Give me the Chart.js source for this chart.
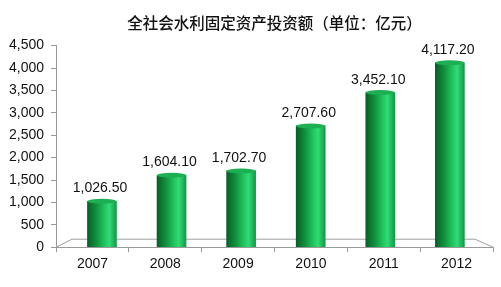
<!DOCTYPE html>
<html>
<head>
<meta charset="utf-8">
<script src="https://cdn.jsdelivr.net/npm/chart.js@4/dist/chart.umd.min.js"></script>
<style>
	html, body { margin: 0; padding: 0; background: #fff; }
	#wrap { width: 501px; height: 287px; }
</style>
</head>
<body>
<div id="wrap"><canvas id="waterChart"></canvas></div>
<script>
// 全社会水利固定资产投资额 (亿元)
const years = ["2007", "2008", "2009", "2010", "2011", "2012"];
const investment = [1026.5, 1604.1, 1702.7, 2707.6, 3452.1, 4117.2];
const yTicks = [0, 500, 1000, 1500, 2000, 2500, 3000, 3500, 4000, 4500];
const titleText = "全社会水利固定资产投资额（单位：亿元）";

const BAR_W = 29;

function fmt(v) {
	return v.toLocaleString("en-US", { minimumFractionDigits: 2, maximumFractionDigits: 2 });
}

function barGradient(ctx) {
	const chart = ctx.chart;
	if (!chart.chartArea || !chart.scales.xb) return "#1aa84a";
	const cx = chart.scales.xb.getPixelForValue(ctx.dataIndex);
	const g = chart.ctx.createLinearGradient(cx - BAR_W / 2, 0, cx + BAR_W / 2, 0);
	g.addColorStop(0, "#0a5e28");
	g.addColorStop(0.3, "#10903d");
	g.addColorStop(0.62, "#24ca63");
	g.addColorStop(0.75, "#32db76");
	g.addColorStop(1, "#139846");
	return g;
}

// draws the 3d floor, cylinder caps and value labels
const decor = {
	id: "decor",
	beforeDatasetsDraw(chart) {
		const { ctx, chartArea: { left, right } } = chart;
		const y0 = chart.scales.y.getPixelForValue(0);
		ctx.save();
		ctx.strokeStyle = "#a0a0a0";
		ctx.lineWidth = 1;
		ctx.beginPath();
		ctx.moveTo(left, y0);
		ctx.lineTo(left + 16, y0 - 8);
		ctx.lineTo(right - 18, y0 - 8);
		ctx.lineTo(right, y0);
		ctx.stroke();
		ctx.restore();
	},
	afterDatasetsDraw(chart) {
		const { ctx } = chart;
		const meta = chart.getDatasetMeta(0);
		ctx.save();
		meta.data.forEach((bar, i) => {
			const r = bar.width / 2;
			// bottom rounding
			ctx.beginPath();
			ctx.ellipse(bar.x, bar.base - 3, r, 2.5, 0, 0, Math.PI);
			ctx.fillStyle = barGradient({ chart: chart, dataIndex: i });
			ctx.fill();
			// top cap
			ctx.beginPath();
			ctx.ellipse(bar.x, bar.y, r, 2.5, 0, 0, Math.PI * 2);
			ctx.fillStyle = "#1db052";
			ctx.fill();
			// value label
			ctx.fillStyle = "#111";
			ctx.font = "14px 'Liberation Sans', Arial, sans-serif";
			ctx.textAlign = "center";
			ctx.textBaseline = "alphabetic";
			ctx.fillText(fmt(investment[i]), bar.x - 2, bar.y - 9);
		});
		ctx.restore();
	},
};

new Chart(document.getElementById("waterChart"), {
	type: "bar",
	data: {
		labels: years,
		datasets: [
			{
				data: investment.map((v, i) => ({ x: i, y: v })),
				xAxisID: "xb",
				backgroundColor: barGradient,
				borderWidth: 0,
				barThickness: BAR_W,
				base: 0,
			},
		],
	},
	plugins: [decor],
	options: {
		responsive: true,
		maintainAspectRatio: false,
		animation: false,
		events: [],
		layout: {
			padding: { left: 2, right: 8, top: 0, bottom: 10 },
		},
		plugins: {
			legend: { display: false },
			tooltip: { enabled: false },
			title: {
				display: true,
				text: titleText,
				fullSize: false,
				color: "#111",
				font: { family: "'Noto Sans CJK SC', sans-serif", size: 15.5, weight: 500 },
				padding: { top: 14, bottom: 13 },
			},
		},
		scales: {
			xb: {
				type: "linear",
				display: false,
				offset: false,
				min: -0.66,
				max: 5.62,
			},
			x: {
				type: "category",
				grid: {
					offset: true,
					drawOnChartArea: false,
					tickLength: 5,
					tickColor: "#999",
				},
				border: { color: "#999" },
				ticks: {
					color: "#111",
					font: { family: "'Liberation Sans', Arial, sans-serif", size: 14 },
					padding: 4,
				},
			},
			y: {
				min: 0,
				max: 4500,
				afterBuildTicks: (axis) => {
					axis.ticks = yTicks.map((v) => ({ value: v }));
				},
				grid: {
					drawOnChartArea: false,
					tickLength: 5,
					tickColor: "#999",
				},
				border: { color: "#999" },
				ticks: {
					color: "#111",
					padding: 7,
					font: { family: "'Liberation Sans', Arial, sans-serif", size: 14 },
					callback: (v) => v.toLocaleString("en-US"),
				},
			},
		},
	},
});
</script>
</body>
</html>
